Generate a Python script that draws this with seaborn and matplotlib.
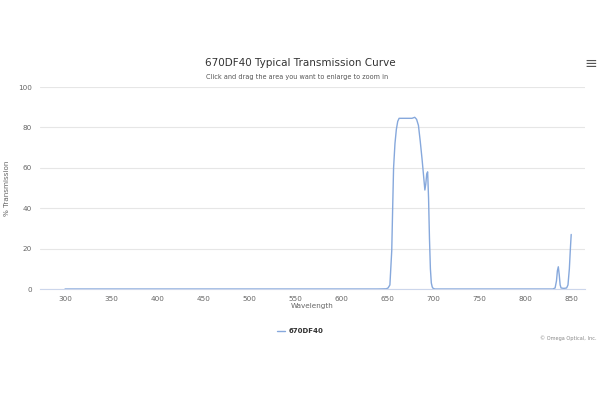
import matplotlib
matplotlib.use('Agg')
import matplotlib.pyplot as plt
import pandas as pd
import seaborn as sns

# Values
wavelength = [300, 400, 500, 600, 640, 649, 651, 653, 655, 656, 657, 658.5, 660,
              661.5, 663, 670, 677, 680, 682, 684, 686, 688, 690, 691, 692, 693,
              694, 695, 696, 697, 698, 699, 700, 702, 750, 800, 830, 832.5, 834,
              835, 836, 837, 838, 839, 842, 845, 846.5, 848, 849, 850]
transmission = [0, 0, 0, 0, 0, 0.1, 0.5, 2, 19, 40, 60, 72, 79,
                83, 84.5, 84.5, 84.5, 85, 84, 81, 73, 64, 54, 49, 52, 57,
                58, 45, 25, 10, 3, 1, 0.3, 0, 0, 0, 0, 0.5, 4,
                9, 11, 7, 2, 0.5, 0.3, 0.5, 2, 10, 19, 27]
series_name = '670DF40'
x_ticks = [300, 350, 400, 450, 500, 550, 600, 650, 700, 750, 800, 850]
y_ticks = [0, 20, 40, 60, 80, 100]

df = pd.DataFrame({'Wavelength': wavelength, 'Transmission': transmission})

sns.set_style('white')
plt.rcParams['font.family'] = ['DejaVu Sans']

fig = plt.figure(figsize=(6, 4), dpi=100)
ax = fig.add_axes([0.067, 0.2775, 0.908, 0.505])

sns.lineplot(data=df, x='Wavelength', y='Transmission', ax=ax,
             color='#86a8dc', linewidth=1.0, label=series_name)

ax.set_xlim(273, 865)
ax.set_ylim(0, 100)
ax.set_xticks(x_ticks)
ax.set_yticks(y_ticks)
ax.tick_params(axis='y', labelsize=5.2, colors='#666666', length=0, pad=6)
ax.tick_params(axis='x', labelsize=5.2, labelcolor='#666666', length=2,
               color='#ccd6eb', width=0.6, pad=3)
ax.grid(axis='y', color='#e6e6e6', linewidth=0.8)
ax.set_axisbelow(True)
for side in ['top', 'right', 'left']:
    ax.spines[side].set_visible(False)
ax.spines['bottom'].set_color('#ccd6eb')
ax.spines['bottom'].set_linewidth(0.8)

ax.set_xlabel('Wavelength', fontsize=5.2, color='#666666', labelpad=1)
ax.set_ylabel('% Transmission', fontsize=5.2, color='#666666')
ax.yaxis.set_label_coords(-0.055, 0.5)

# Title, subtitle and menu icon
fig.text(0.5, 0.843, '670DF40 Typical Transmission Curve', ha='center',
         va='center', fontsize=7.5, color='#333333')
fig.text(0.4958, 0.808, 'Click and drag the area you want to enlarge to zoom in',
         ha='center', va='center', fontsize=4.7, color='#555555')
fig.text(0.984, 0.842, '\u2261', ha='center', va='center', fontsize=11,
         color='#555555')

# Legend below the plot
leg = ax.legend(loc='center', bbox_to_anchor=(0.5, 0.172),
                bbox_transform=fig.transFigure, frameon=False,
                fontsize=5, handlelength=1.2, handletextpad=0.5)
for t in leg.get_texts():
    t.set_fontweight('bold')
    t.set_color('#333333')

fig.text(0.995, 0.155, '\u00a9 Omega Optical, Inc.', ha='right', va='center',
         fontsize=3.6, color='#888888')

fig.savefig('out.png', dpi=100)
